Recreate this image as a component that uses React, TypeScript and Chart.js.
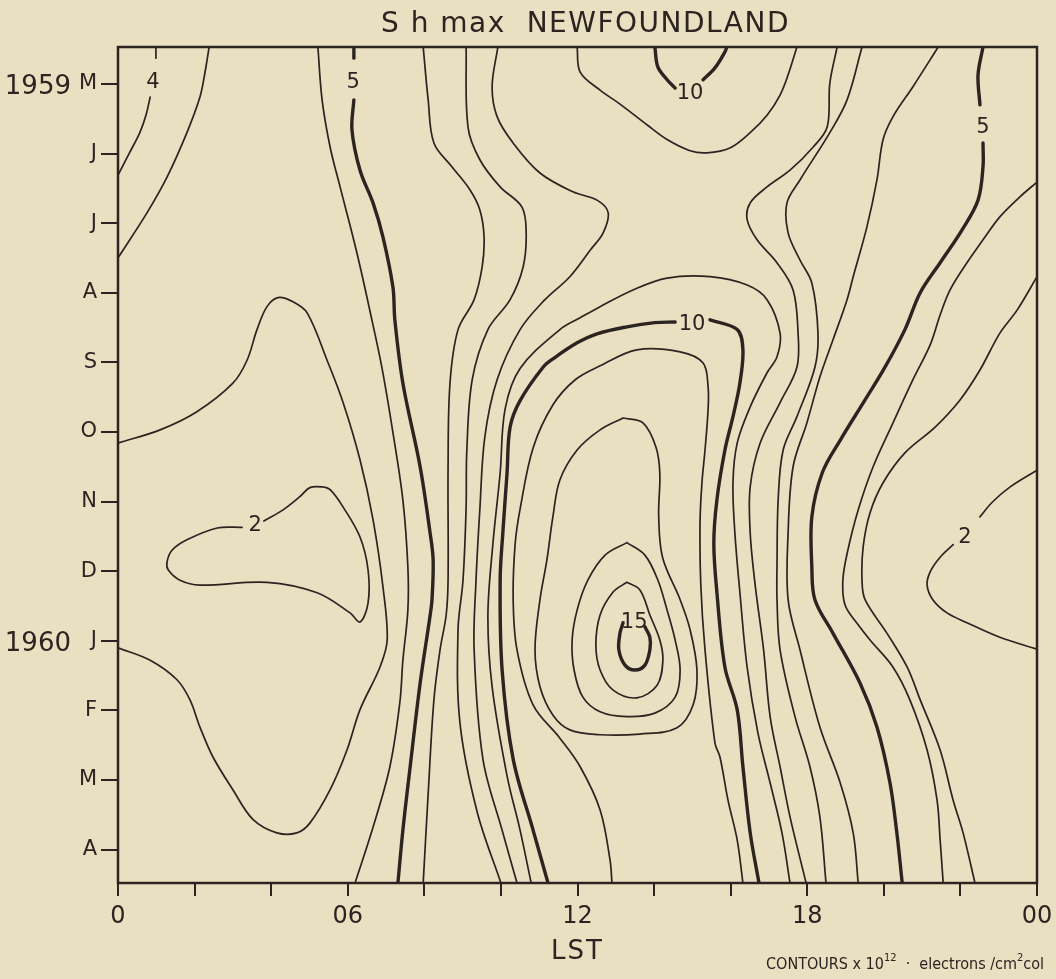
import React, { useEffect, useRef } from 'react';
import { Chart, registerables } from 'chart.js';

Chart.register(...registerables);

// [LST hour, month index counted from May 1959]
type Pt = [number, number];

const INK = '#2b2421';
const PAPER = '#e9dfc1';
const FONT = '"DejaVu Sans", "Liberation Sans", sans-serif';

const TITLE = 'S h max  NEWFOUNDLAND';
const AXIS_TITLE = 'LST';
const monthLabels = ['M', 'J', 'J', 'A', 'S', 'O', 'N', 'D', 'J', 'F', 'M', 'A'];
const yearLabels = [
  { index: 0, text: '1959' },
  { index: 8, text: '1960' },
];
const hourTicks = [0, 2, 4, 6, 8, 10, 12, 14, 16, 18, 20, 22, 24];
const hourLabels: Record<number, string> = { 0: '0', 6: '06', 12: '12', 18: '18', 24: '00' };

// ---- contour lines (x = LST hour, y = month) ----
const c4NWStub: Pt[] = [[0.99, -0.53], [0.99, -0.37]];
const c4NW: Pt[] = [[0.84, 0.19], [0.73, 0.45], [0.57, 0.70], [0.31, 0.98], [0, 1.31]];
const c3NW: Pt[] = [[2.38, -0.53], [2.27, -0.16], [2.14, 0.19], [1.80, 0.70], [1.28, 1.34], [0.76, 1.85], [0, 2.50]];

const c2DawnTrough: Pt[] = [
  [0, 5.16], [1.10, 4.97], [2.06, 4.71], [3.00, 4.30], [3.37, 3.97], [3.63, 3.53], [3.89, 3.20],
  [4.18, 3.07], [4.57, 3.13], [4.94, 3.29], [5.46, 3.97], [5.88, 4.58], [6.32, 5.40], [6.66, 6.26],
  [6.92, 7.23], [7.03, 7.99], [6.84, 8.38], [6.32, 8.99], [5.98, 9.57], [5.54, 10.14], [5.01, 10.62],
  [4.67, 10.76], [4.15, 10.76], [3.53, 10.57], [3.00, 10.14], [2.48, 9.67], [2.14, 9.24], [1.88, 8.85],
  [1.54, 8.56], [0.84, 8.28], [0, 8.10],
];

const c2DawnLoop: Pt[] = [
  [3.81, 6.28], [4.31, 6.12], [4.75, 5.93], [5.01, 5.80], [5.33, 5.79], [5.54, 5.83], [5.88, 6.08],
  [6.32, 6.51], [6.53, 6.98], [6.53, 7.46], [6.32, 7.73], [6.06, 7.60], [5.20, 7.31], [3.89, 7.16],
  [2.14, 7.20], [1.62, 7.13], [1.31, 6.98], [1.28, 6.87], [1.41, 6.70], [1.80, 6.55], [2.59, 6.38],
  [3.24, 6.37],
];

const c4Dawn: Pt[] = [
  [5.22, -0.53], [5.33, 0.23], [5.54, 0.91], [5.80, 1.48], [6.24, 2.43], [6.63, 3.39], [6.89, 4.07],
  [7.18, 5.01], [7.44, 5.98], [7.57, 6.94], [7.57, 7.56], [7.44, 8.28], [7.36, 8.89], [7.10, 9.81],
  [6.66, 10.68], [6.19, 11.48],
];

const c5DawnStub: Pt[] = [[6.16, -0.53], [6.16, -0.37]];
const c5Dawn: Pt[] = [
  [6.16, 0.23], [6.11, 0.66], [6.32, 1.24], [6.66, 1.71], [6.92, 2.20], [7.18, 2.92], [7.23, 3.39],
  [7.44, 4.30], [7.89, 5.50], [8.15, 6.45], [8.23, 6.84], [8.20, 7.41], [8.15, 7.64], [7.89, 8.61],
  [7.63, 9.81], [7.44, 10.72], [7.31, 11.48],
];

const c6Dawn: Pt[] = [
  [7.97, -0.53], [8.10, 0.23], [8.25, 0.85], [8.72, 1.19], [9.19, 1.52], [9.45, 1.81], [9.56, 2.20],
  [9.51, 2.63], [9.30, 3.10], [8.88, 3.53], [8.67, 4.30], [8.62, 5.50], [8.62, 7.13], [8.57, 7.63],
  [8.41, 8.13], [8.25, 8.85], [8.10, 10.20], [7.97, 11.48],
];

const c7Dawn: Pt[] = [
  [9.09, -0.53], [9.14, 0.62], [9.45, 1.09], [9.98, 1.48], [10.55, 1.77], [10.66, 2.14], [10.58, 2.63],
  [10.24, 3.10], [9.66, 3.53], [9.25, 4.25], [9.11, 5.26], [9.09, 6.11], [9.01, 7.13], [8.88, 7.84],
  [8.93, 9.18], [9.38, 10.46], [10.00, 11.48],
];

const c8Dawn: Pt[] = [
  [9.92, -0.53], [9.77, 0.04], [9.90, 0.47], [10.32, 0.85], [11.02, 1.28], [11.88, 1.55], [12.51, 1.67],
  [12.80, 1.85], [12.67, 2.14], [12.33, 2.39], [11.80, 2.77], [11.15, 3.10], [10.50, 3.53], [9.90, 4.25],
  [9.58, 5.07], [9.45, 6.11], [9.35, 7.13], [9.30, 8.13], [9.53, 9.70], [10.03, 10.72], [10.42, 11.48],
];

const c9Noon: Pt[] = [
  [10.79, 11.48], [10.50, 10.72], [10.16, 9.94], [9.77, 8.66], [9.66, 7.64], [9.79, 6.61], [9.98, 5.59],
  [10.11, 4.67], [10.50, 4.09], [11.54, 3.53], [12.07, 3.36], [12.59, 3.20], [13.45, 2.96], [14.34, 2.79],
  [15.46, 2.77], [16.43, 2.89], [16.95, 3.10], [17.29, 3.58], [17.21, 3.92], [16.95, 4.15], [16.51, 4.64],
  [16.17, 5.16], [16.06, 5.73], [16.11, 6.45], [16.24, 7.30], [16.43, 8.38], [16.71, 9.32],
  [17.03, 10.04], [17.34, 10.76], [17.55, 11.48],
];

const c9Top: Pt[] = [
  [11.99, -0.53], [12.07, -0.17], [12.59, 0.09], [13.11, 0.29], [13.82, 0.59], [14.34, 0.80], [14.94, 0.96],
  [15.38, 0.99], [15.98, 0.92], [16.51, 0.70], [16.95, 0.45], [17.29, 0.16], [17.50, -0.13], [17.73, -0.53],
];

const c10TopW: Pt[] = [[14.02, -0.53], [14.10, -0.24], [14.34, -0.06], [14.55, 0.06]];
const c10TopE: Pt[] = [[15.28, -0.06], [15.59, -0.23], [15.85, -0.46], [15.90, -0.53]];

const c10W: Pt[] = [
  [11.23, 11.48], [10.84, 10.72], [10.32, 9.70], [10.03, 8.41], [9.98, 7.13], [10.05, 6.45], [10.16, 5.59],
  [10.24, 4.93], [10.50, 4.55], [11.10, 4.07], [11.36, 3.95], [11.99, 3.72], [12.51, 3.59], [13.29, 3.49],
  [14.02, 3.43], [14.55, 3.42],
];
const c10E: Pt[] = [
  [15.46, 3.39], [16.17, 3.53], [16.32, 3.82], [16.24, 4.30], [16.06, 4.78], [15.85, 5.26], [15.64, 5.98],
  [15.56, 6.60], [15.64, 7.30], [15.85, 8.38], [16.17, 8.99], [16.32, 9.81], [16.51, 10.76],
  [16.74, 11.48],
];

const c11: Pt[] = [
  [12.90, 11.48], [12.85, 11.15], [12.59, 10.43], [12.07, 9.81], [11.54, 9.40], [10.84, 8.92], [10.42, 8.13],
  [10.32, 7.41], [10.37, 6.62], [10.50, 6.11], [10.84, 5.23], [11.36, 4.61], [11.94, 4.25], [12.59, 4.05],
  [13.55, 3.82], [14.68, 3.85], [15.28, 4.01], [15.41, 4.35], [15.41, 4.68], [15.33, 5.26], [15.25, 5.73],
  [15.20, 6.30], [15.22, 7.20], [15.33, 8.13], [15.59, 9.47], [15.72, 9.67], [15.93, 10.29],
  [16.17, 10.86], [16.32, 11.48],
];

const c12: Pt[] = [
  [13.19, 4.80], [13.71, 4.87], [14.05, 5.22], [14.15, 5.60], [14.12, 6.20], [14.22, 6.80],
  [14.68, 7.41], [14.94, 7.84], [15.12, 8.42], [15.02, 8.92], [14.60, 9.25], [13.63, 9.34], [12.59, 9.35],
  [11.80, 9.28], [11.36, 9.07], [11.02, 8.66], [10.89, 8.13], [11.02, 7.41], [11.20, 6.84], [11.36, 6.21],
  [11.54, 5.69], [11.99, 5.26], [12.59, 4.97], [13.19, 4.80],
];

const c13: Pt[] = [
  [13.29, 6.59], [13.76, 6.77], [14.10, 7.13], [14.34, 7.56], [14.55, 7.99], [14.68, 8.42], [14.55, 8.81],
  [14.02, 9.04], [13.29, 9.09], [12.59, 9.02], [12.14, 8.81], [11.91, 8.42], [11.86, 7.99], [11.99, 7.56],
  [12.27, 7.13], [12.72, 6.77], [13.29, 6.59],
];

const c14: Pt[] = [
  [13.29, 7.16], [13.63, 7.27], [13.89, 7.63], [14.15, 7.99], [14.23, 8.28], [14.08, 8.64], [13.55, 8.82],
  [12.93, 8.71], [12.59, 8.42], [12.48, 8.06], [12.59, 7.63], [12.93, 7.30], [13.29, 7.16],
];

const c15: Pt[] = [
  [13.76, 7.80], [13.89, 7.95], [13.89, 8.13], [13.76, 8.35], [13.50, 8.42], [13.24, 8.35], [13.08, 8.13],
  [13.11, 7.89], [13.19, 7.74],
];

const c8Dusk: Pt[] = [
  [18.78, -0.53], [18.59, -0.01], [18.52, 0.62], [18.15, 0.91], [17.55, 1.24], [16.95, 1.48], [16.51, 1.71],
  [16.43, 1.95], [16.69, 2.24], [17.21, 2.57], [17.63, 2.96], [17.76, 3.58], [17.73, 4.07], [17.29, 4.58],
  [16.77, 5.16], [16.51, 5.79], [16.51, 6.45], [16.64, 7.20], [16.86, 8.13], [17.03, 9.09],
  [17.29, 9.81], [17.55, 10.53], [17.97, 11.48],
];

const c7Dusk: Pt[] = [
  [19.43, -0.53], [19.04, 0.23], [18.59, 0.70], [17.81, 1.38], [17.47, 1.71], [17.50, 2.14], [17.81, 2.53],
  [18.12, 2.86], [18.28, 3.58], [18.20, 4.07], [17.73, 4.78], [17.37, 5.26], [17.24, 5.98], [17.21, 6.94],
  [17.21, 7.41], [17.29, 8.13], [17.68, 9.09], [18.07, 9.81], [18.33, 10.53], [18.49, 11.48],
];

const c6Dusk: Pt[] = [
  [21.42, -0.53], [20.76, 0.04], [20.24, 0.47], [19.98, 0.80], [19.82, 1.38], [19.56, 2.05], [19.20, 2.77],
  [19.04, 3.10], [18.67, 3.68], [18.33, 4.21], [17.99, 4.87], [17.63, 5.50], [17.50, 6.45], [17.50, 7.41],
  [17.81, 8.13], [18.33, 9.24], [18.86, 10.04], [19.20, 10.76], [19.33, 11.48],
];

const c5DuskStub: Pt[] = [[22.59, -0.53], [22.46, -0.13], [22.51, 0.30]];
const c5Dusk: Pt[] = [
  [22.59, 0.85], [22.59, 1.19], [22.46, 1.67], [22.04, 2.10], [21.47, 2.57], [20.95, 3.00], [20.55, 3.53],
  [20.03, 4.07], [19.51, 4.54], [18.86, 5.12], [18.39, 5.59], [18.12, 6.22], [18.12, 6.94], [18.20, 7.41],
  [18.67, 7.89], [19.38, 8.61], [19.82, 9.24], [20.16, 10.04], [20.34, 10.76], [20.48, 11.48],
];

const c4Dusk: Pt[] = [
  [24.00, 1.41], [23.56, 1.62], [23.03, 1.91], [22.59, 2.24], [22.17, 2.57], [21.73, 2.96], [21.47, 3.32],
  [21.21, 3.75], [20.76, 4.25], [20.24, 4.87], [19.72, 5.50], [19.33, 6.12], [19.06, 6.70], [18.93, 7.13],
  [18.99, 7.49], [19.33, 7.77], [19.64, 7.99], [20.24, 8.38], [20.68, 8.85], [21.13, 9.57], [21.39, 10.29],
  [21.47, 10.86], [21.55, 11.48],
];

const c3Dusk: Pt[] = [
  [24.00, 2.77], [23.48, 3.25], [23.03, 3.58], [22.51, 4.11], [21.99, 4.54], [21.34, 4.93], [20.55, 5.30],
  [19.98, 5.73], [19.64, 6.16], [19.46, 6.65], [19.43, 7.13], [19.51, 7.41], [20.08, 7.89], [20.61, 8.38],
  [20.95, 8.85], [21.47, 9.57], [21.81, 10.29], [22.07, 10.76], [22.38, 11.48],
];

const c2DuskN: Pt[] = [[24, 5.55], [23.30, 5.79], [22.83, 6.01], [22.51, 6.22]];
const c2DuskS: Pt[] = [
  [21.81, 6.62], [21.47, 6.80], [21.21, 7.01], [21.13, 7.20], [21.28, 7.41], [21.65, 7.60], [22.17, 7.74],
  [23.03, 7.95], [24, 8.12],
];

const thinLines: Pt[][] = [
  c4NWStub, c4NW, c3NW, c2DawnTrough, c2DawnLoop, c4Dawn, c6Dawn, c7Dawn, c8Dawn, c9Noon, c9Top,
  c11, c12, c13, c14, c8Dusk, c7Dusk, c6Dusk, c4Dusk, c3Dusk, c2DuskN, c2DuskS,
];
const boldLines: Pt[][] = [c5DawnStub, c5Dawn, c10TopW, c10TopE, c10W, c10E, c15, c5DuskStub, c5Dusk];

const contourLabels = [
  { text: '4', lst: 0.91, month: -0.06 },
  { text: '5', lst: 6.14, month: -0.06 },
  { text: '10', lst: 14.94, month: 0.1 },
  { text: '5', lst: 22.59, month: 0.59 },
  { text: '10', lst: 14.99, month: 3.42 },
  { text: '2', lst: 3.58, month: 6.31 },
  { text: '2', lst: 22.12, month: 6.48 },
  { text: '15', lst: 13.48, month: 7.7 },
];

const lineDataset = (pts: Pt[], width: number) => ({
  data: pts.map(([x, y]) => ({ x, y })),
  showLine: true,
  borderColor: INK,
  borderWidth: width,
  pointRadius: 0,
  pointHoverRadius: 0,
  tension: 0.35,
  fill: false,
  borderCapStyle: 'round' as const,
  borderJoinStyle: 'round' as const,
});

const decorPlugin = {
  id: 'decor',
  beforeDraw(chart: any) {
    const { ctx, width, height } = chart;
    ctx.save();
    ctx.fillStyle = PAPER;
    ctx.fillRect(0, 0, width, height);
    ctx.restore();
  },
  afterDatasetsDraw(chart: any) {
    const { ctx, scales } = chart;
    ctx.save();
    ctx.fillStyle = INK;
    ctx.font = `21px ${FONT}`;
    ctx.textAlign = 'center';
    ctx.textBaseline = 'alphabetic';
    for (const l of contourLabels) {
      const x = scales.x.getPixelForValue(l.lst);
      const y = scales.y.getPixelForValue(l.month);
      ctx.fillText(l.text, x, y + 8);
    }
    ctx.restore();
  },
  afterDraw(chart: any) {
    const { ctx, chartArea, scales } = chart;
    const { left, right, top, bottom } = chartArea;
    ctx.save();
    ctx.strokeStyle = INK;
    ctx.lineWidth = 2.5;
    ctx.strokeRect(left, top, right - left, bottom - top);

    ctx.fillStyle = INK;
    ctx.textBaseline = 'alphabetic';

    // title
    ctx.font = `28px ${FONT}`;
    ctx.textAlign = 'center';
    (ctx as any).letterSpacing = '1.5px';
    ctx.fillText(TITLE, (left + right) / 2 + 8, 32);

    // axis title
    ctx.font = `26px ${FONT}`;
    (ctx as any).letterSpacing = '2px';
    ctx.fillText(AXIS_TITLE, (left + right) / 2, 959);
    (ctx as any).letterSpacing = '0px';

    // year markers beside the month ticks
    ctx.font = `26px ${FONT}`;
    ctx.textAlign = 'right';
    for (const yl of yearLabels) {
      const y = scales.y.getPixelForValue(yl.index);
      ctx.fillText(yl.text, 71, y + 10);
    }

    // units note
    const big = `16px "DejaVu Sans Condensed", ${FONT}`;
    const small = `11px "DejaVu Sans Condensed", ${FONT}`;
    const parts = [
      { t: 'CONTOURS x 10', f: big, dy: 0 },
      { t: '12', f: small, dy: -8 },
      { t: '  ·  electrons /cm', f: big, dy: 0 },
      { t: '2', f: small, dy: -8 },
      { t: 'col', f: big, dy: 0 },
    ];
    let total = 0;
    for (const p of parts) {
      ctx.font = p.f;
      total += ctx.measureText(p.t).width;
    }
    let x = right + 7 - total;
    ctx.textAlign = 'left';
    for (const p of parts) {
      ctx.font = p.f;
      ctx.fillText(p.t, x, 969 + p.dy);
      x += ctx.measureText(p.t).width;
    }
    ctx.restore();
  },
};

export default function App() {
  const ref = useRef<HTMLCanvasElement>(null);

  useEffect(() => {
    document.body.style.margin = '0';
    document.body.style.background = PAPER;
    const datasets = [
      ...thinLines.map((p) => lineDataset(p, 1.7)),
      ...boldLines.map((p) => lineDataset(p, 3.4)),
    ];
    const chart = new Chart(ref.current as HTMLCanvasElement, {
      type: 'scatter',
      data: { datasets },
      options: {
        animation: false,
        responsive: false,
        maintainAspectRatio: false,
        events: [],
        layout: { padding: { top: 47, right: 19, bottom: 0, left: 0 } },
        plugins: {
          legend: { display: false },
          tooltip: { enabled: false },
          title: { display: false },
        },
        scales: {
          x: {
            type: 'linear',
            position: 'bottom',
            min: 0,
            max: 24,
            afterBuildTicks: (scale: any) => {
              scale.ticks = hourTicks.map((v) => ({ value: v }));
            },
            afterFit: (scale: any) => {
              scale.height = 96;
              scale.paddingLeft = 0;
              scale.paddingRight = 0;
            },
            border: { display: false },
            grid: { drawOnChartArea: false, drawTicks: true, tickLength: 13, color: INK, lineWidth: 2 },
            ticks: {
              autoSkip: false,
              maxRotation: 0,
              padding: 6,
              color: INK,
              font: { family: FONT, size: 24 },
              callback: (v: any) => hourLabels[Number(v)] ?? '',
            },
          },
          y: {
            type: 'linear',
            position: 'left',
            reverse: true,
            min: -0.53,
            max: 11.48,
            afterBuildTicks: (scale: any) => {
              scale.ticks = monthLabels.map((_, i) => ({ value: i }));
            },
            afterFit: (scale: any) => {
              scale.width = 118;
              scale.paddingTop = 0;
              scale.paddingBottom = 0;
            },
            border: { display: false },
            grid: { drawOnChartArea: false, drawTicks: true, tickLength: 17, color: INK, lineWidth: 2 },
            ticks: {
              autoSkip: false,
              padding: 4,
              color: INK,
              font: { family: FONT, size: 21 },
              callback: (_v: any, i: number) => monthLabels[i] ?? '',
            },
          },
        },
      },
      plugins: [decorPlugin],
    } as any);
    return () => chart.destroy();
  }, []);

  return (
    <div style={{ position: 'absolute', left: 0, top: 0, width: 1056, height: 979 }}>
      <canvas ref={ref} width={1056} height={979} style={{ display: 'block' }} />
    </div>
  );
}
